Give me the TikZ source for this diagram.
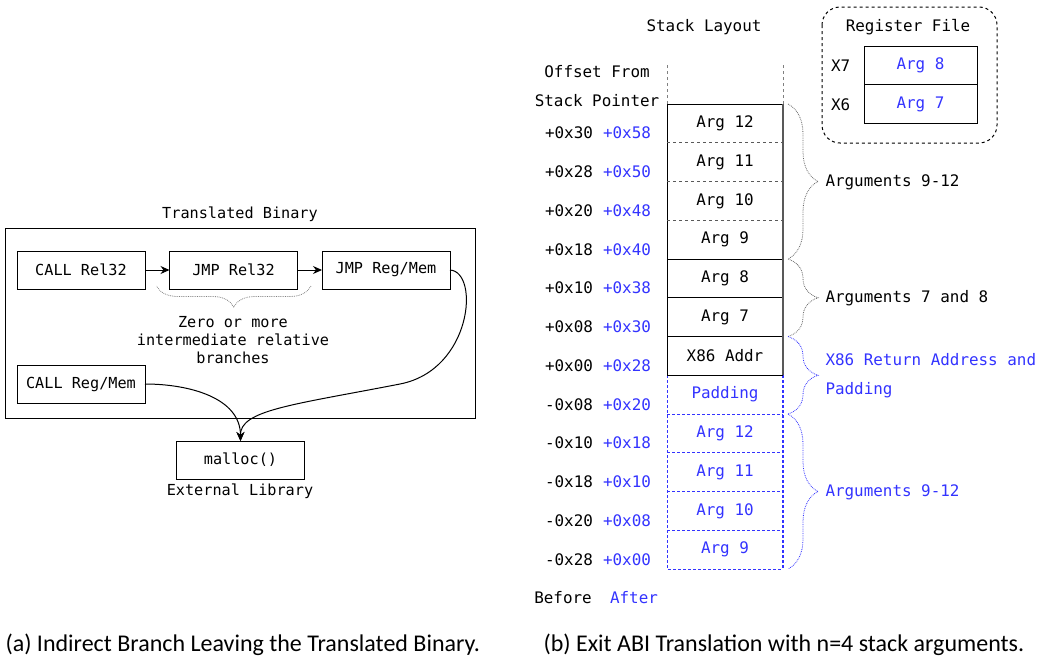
\documentclass[tikz,border=0pt]{standalone}
\usepackage{fontspec}
\setmainfont{Carlito}
\setmonofont{DejaVu Sans Mono}
\usetikzlibrary{positioning,arrows.meta,decorations.pathreplacing}
\definecolor{abiblue}{RGB}{51,51,255}
\newcommand{\smallmono}{\ttfamily\fontsize{15.2}{18}\selectfont}
\newcommand{\stackmono}{\ttfamily\fontsize{15.9}{19}\selectfont}

\begin{document}
\begin{tikzpicture}[x=1pt,y=-1pt,line width=1pt,
  box/.style={draw,minimum width=128,minimum height=38,inner sep=0,outer sep=0,font=\smallmono},
  cell/.style={minimum width=116,minimum height=38.75,inner sep=0,outer sep=0,font=\stackmono},
  newcell/.style={cell,text=abiblue},
  lbl/.style={font=\stackmono},
  arr/.style={-{Stealth[length=9,width=8]}},
  stackbrace/.style={decorate,decoration={brace,amplitude=30},densely dotted,line width=0.8},
]
\useasboundingbox (0,0) rectangle (1049,664);

% (a) translated binary
\node[font=\smallmono] (bintitle) at (240,214) {Translated Binary};
\draw (5,228) rectangle (475,418);
\node[box] (callrel) at (81,270) {CALL Rel32};
\node[box] (jmprel) at (233.5,270) {JMP Rel32};
\node[box] (jmpreg) at (386,270) {JMP Reg/Mem};
\node[box] (callreg) at (81,384) {CALL Reg/Mem};
\node[box] (malloc) at (240.5,460) {malloc()};
\node[font=\smallmono] (extlib) at (240,491) {External Library};
\draw[arr] (callrel) -- (jmprel);
\draw[arr] (jmprel) -- (jmpreg);
\draw[decorate,decoration={brace,amplitude=21},densely dotted,gray,line width=0.8]
  ([xshift=-11,yshift=3]jmpreg.south west) -- ([xshift=-13,yshift=3]jmprel.south west);
\node[font=\smallmono,align=center] (interm) at (233,340)
  {Zero or more\\intermediate relative\\branches};
\draw[arr] (callreg.east) to[out=0,in=90] (malloc.north);
\draw[arr] (jmpreg.east) .. controls (480,272) and (472,370) .. (400,384)
  .. controls (292,405) and (240,410) .. (malloc.north);

% (b) stack layout
\node[lbl] (stacktitle) at (704,27) {Stack Layout};
\node[lbl] (offset1) at (597,72) {Offset From};
\node[lbl] (offset2) at (597,101) {Stack Pointer};
\node[cell] (s0) at (725,123.4) {Arg 12};
\node[cell,below=0 of s0] (s1) {Arg 11};
\node[cell,below=0 of s1] (s2) {Arg 10};
\node[cell,below=0 of s2] (s3) {Arg 9};
\node[cell,draw,below=0 of s3] (s4) {Arg 8};
\node[cell,draw,below=0 of s4] (s5) {Arg 7};
\node[cell,draw,below=0 of s5] (s6) {X86 Addr};
\node[newcell,below=0 of s6] (s7) {Padding};
\node[newcell,below=0 of s7] (s8) {Arg 12};
\node[newcell,below=0 of s8] (s9) {Arg 11};
\node[newcell,below=0 of s9] (s10) {Arg 10};
\node[newcell,below=0 of s10] (s11) {Arg 9};
\draw (s0.north west) rectangle (s3.south east);
\draw[dashed,gray!70!black] (s0.south west) -- (s0.south east)
  (s1.south west) -- (s1.south east)
  (s2.south west) -- (s2.south east);
\draw[abiblue,dash pattern=on 2.5 off 2.5]
  (s7.north west) -- (s11.south west) -- (s11.south east)
  (s7.south west) -- (s7.south east)
  (s8.south west) -- (s8.south east)
  (s9.south west) -- (s9.south east)
  (s10.south west) -- (s10.south east);
\draw[abiblue,dash pattern=on 2.5 off 2.5,line width=1.6] (s7.north east) -- (s11.south east);
\draw (s6.south west) -- (s6.south east);
\draw[gray!70!black,line width=1.6] (s0.north east) -- (s6.south east);
\draw[dashed,gray] (s0.north west) -- ++(0,-39)
  (s0.north east) -- ++(0,-39);

\foreach \bef/\aft [count=\i from 0] in {+0x30/+0x58,+0x28/+0x50,+0x20/+0x48,+0x18/+0x40,
  +0x10/+0x38,+0x08/+0x30,+0x00/+0x28,-0x08/+0x20,-0x10/+0x18,-0x18/+0x10,-0x20/+0x08,-0x28/+0x00}{
  \node[lbl] (bef\i) at (569,133+38.75*\i) {\bef};
  \node[lbl,text=abiblue] (aft\i) at (627,133+38.75*\i) {\aft};
}
\node[lbl] (before) at (563,598) {Before};
\node[lbl,text=abiblue] (after) at (634,598) {After};

% braces
\draw[stackbrace,gray!80!black] ([xshift=5]s0.north east) -- ([xshift=5]s3.south east);
\draw[stackbrace,gray!80!black] ([xshift=5]s4.north east) -- ([xshift=5]s5.south east);
\draw[stackbrace,abiblue] ([xshift=5]s6.north east) -- ([xshift=5]s7.south east);
\draw[stackbrace,abiblue] ([xshift=5]s8.north east) -- ([xshift=5]s11.south east);
\node[lbl,anchor=west,inner sep=0] (args1) at (825,182) {Arguments 9-12};
\node[lbl,anchor=west,inner sep=0] (args2) at (825,298) {Arguments 7 and 8};
\node[anchor=west,inner sep=0,align=left,text=abiblue,font=\ttfamily\fontsize{15.9}{29}\selectfont]
  (retaddr) at (825,376) {X86 Return Address and\\Padding};
\node[lbl,anchor=west,inner sep=0,text=abiblue] (args3) at (825,492) {Arguments 9-12};

% register file
\draw[dashed,rounded corners=18] (822,7) rectangle (997,143);
\node[lbl] (regtitle) at (908,27) {Register File};
\node[cell,draw,minimum width=113,text=abiblue] (x7) at (920.5,65.5) {Arg 8};
\node[cell,draw,minimum width=113,text=abiblue,below=0 of x7] (x6) {Arg 7};
\node[lbl,left=10 of x7] (x7lbl) {X7};
\node[lbl,left=10 of x6] (x6lbl) {X6};

% captions
\node[anchor=west,inner sep=0,font=\fontsize{24}{28}\selectfont] (capa) at (5,645)
  {(a) Indirect Branch Leaving the Translated Binary.};
\node[anchor=west,inner sep=0,font=\fontsize{24}{28}\selectfont] (capb) at (543,645)
  {(b) Exit ABI Translation with n=4 stack arguments.};
\end{tikzpicture}
\end{document}
